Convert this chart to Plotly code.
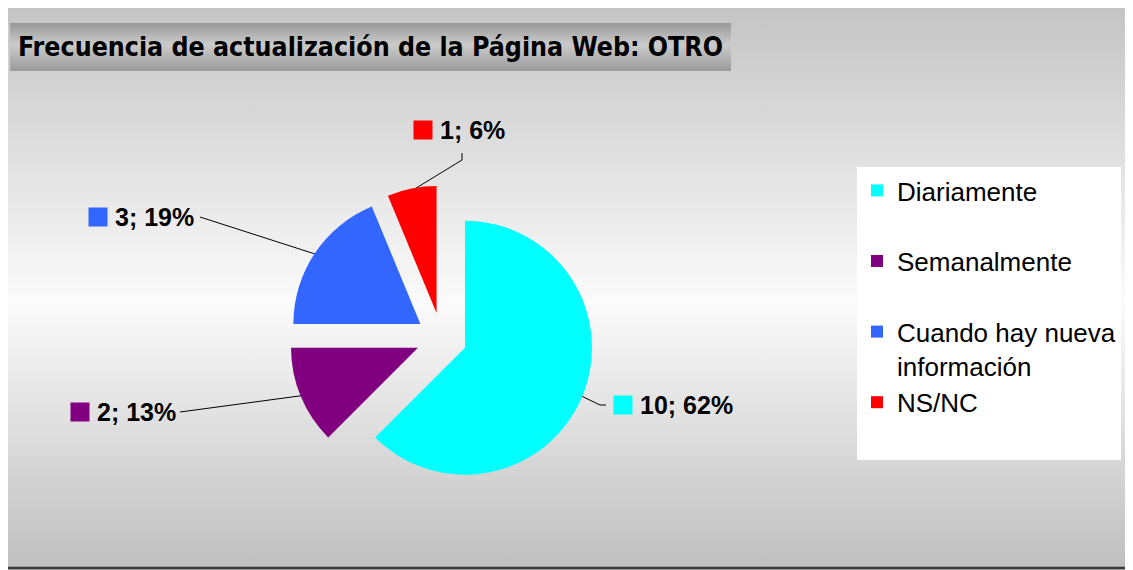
import math
import plotly.graph_objects as go

categorias = ["Diariamente", "Semanalmente", "Cuando hay nueva información", "NS/NC"]
valores = [10, 2, 3, 1]
porcentajes = [62, 13, 19, 6]
colores = ["#00FFFF", "#800080", "#3366FF", "#FF0000"]
titulo = "Frecuencia de actualización de la Página Web: OTRO"

W, H = 1133, 570
OFF = 8  # margen del body del html: la figura queda desplazada 8px
# geometria del pastel (px de la imagen)
cx, cy, r, pull = 441.5, 338, 127, 0.2
caja = r * (2 + 2 * pull)

# donde van las etiquetas (esquina izq. del cuadrito) y por donde doblan las guias (px)
pos_etiqueta = [(613, 405), (70, 412), (88, 217), (413, 130)]
quiebres = [[(600, 405), (606, 405)], [(180, 412)], [(200, 217)], [(462, 160), (462, 153)]]


def px(s):
    return (s - OFF) / (W - OFF)


def py(s):
    return 1 - (s - OFF) / (H - OFF)


def etiqueta_leyenda(txt):
    # dos lineas por entrada para espaciar la leyenda como en el original
    if " nueva " in txt:
        return txt.replace(" nueva ", " nueva<br>")
    return txt + "<br>\u00a0"


fig = go.Figure()

# fondo degradado
fig.add_trace(go.Scatter(
    x=[0, W, W, 0, 0], y=[0, 0, H, H, 0], mode="lines", fill="toself",
    line=dict(width=0), hoverinfo="skip", showlegend=False,
    fillgradient=dict(type="vertical", start=0, stop=H,
                      colorscale=[[0, "#c3c3c3"], [0.53, "#fbfbfb"], [1, "#bebebe"]])))

# caja del titulo
fig.add_trace(go.Scatter(
    x=[10, 731, 731, 10, 10], y=[23, 23, 71, 71, 23], mode="lines", fill="toself",
    line=dict(width=0), hoverinfo="skip", showlegend=False,
    fillgradient=dict(type="vertical", start=23, stop=71,
                      colorscale=[[0, "#989898"], [0.45, "#cbcbcb"], [1, "#9a9a9a"]])))

# lineas guia desde el borde de cada porcion
total = sum(valores)
acum = 0
for v, q in zip(valores, quiebres):
    ang = math.radians(360 * (acum + v / 2) / total)
    acum += v
    rr = (1 + pull) * r - 2
    x0 = cx + rr * math.sin(ang)
    y0 = cy - rr * math.cos(ang)
    fig.add_trace(go.Scatter(
        x=[x0] + [p[0] for p in q], y=[y0] + [p[1] for p in q], mode="lines",
        line=dict(color="black", width=1), hoverinfo="skip", showlegend=False))

# cuadritos de color de las etiquetas
fig.add_trace(go.Scatter(
    x=[p[0] + 10 for p in pos_etiqueta], y=[p[1] for p in pos_etiqueta], mode="markers",
    marker=dict(symbol="square", size=19, color=colores, line=dict(width=0)),
    hoverinfo="skip", showlegend=False))

fig.add_trace(go.Pie(
    labels=[etiqueta_leyenda(c) for c in categorias], values=valores,
    marker=dict(colors=colores, line=dict(width=0)),
    sort=False, direction="clockwise", rotation=0, pull=pull, textinfo="none",
    hovertemplate="%{label}: %{value}<extra></extra>",
    domain=dict(x=[px(cx - caja / 2), px(cx + caja / 2)],
                y=[py(cy + caja / 2), py(cy - caja / 2)])))

for v, p, (lx, ly) in zip(valores, porcentajes, pos_etiqueta):
    fig.add_annotation(
        x=lx + 25, y=ly, xref="x", yref="y", xanchor="left", yanchor="middle", showarrow=False,
        text=f"<b>{v}; {p}%</b>",
        font=dict(family="Liberation Sans, Arial", size=25, color="black"))

fig.add_shape(type="rect", x0=2, x1=W + 10, y0=-10, y1=568, xref="x", yref="y",
              line=dict(color="#3a3a3a", width=2.5), layer="above")

fig.update_layout(
    width=W - OFF, height=H - OFF, margin=dict(l=0, r=0, t=0, b=0),
    paper_bgcolor="#d0d0d0", plot_bgcolor="rgba(0,0,0,0)",
    title=dict(text=f"<b>{titulo}</b>", x=px(18), xanchor="left", y=py(47), yanchor="middle",
               font=dict(family="DejaVu Sans Condensed, DejaVu Sans", size=26.5, color="black")),
    xaxis=dict(range=[OFF, W], visible=False, fixedrange=True),
    yaxis=dict(range=[H, OFF], visible=False, fixedrange=True),
    legend=dict(x=px(857), y=py(167), xanchor="left", yanchor="top", bgcolor="white",
                valign="top", font=dict(family="Liberation Sans, Arial", size=26, color="black")),
)

fig.write_html("out.html")
